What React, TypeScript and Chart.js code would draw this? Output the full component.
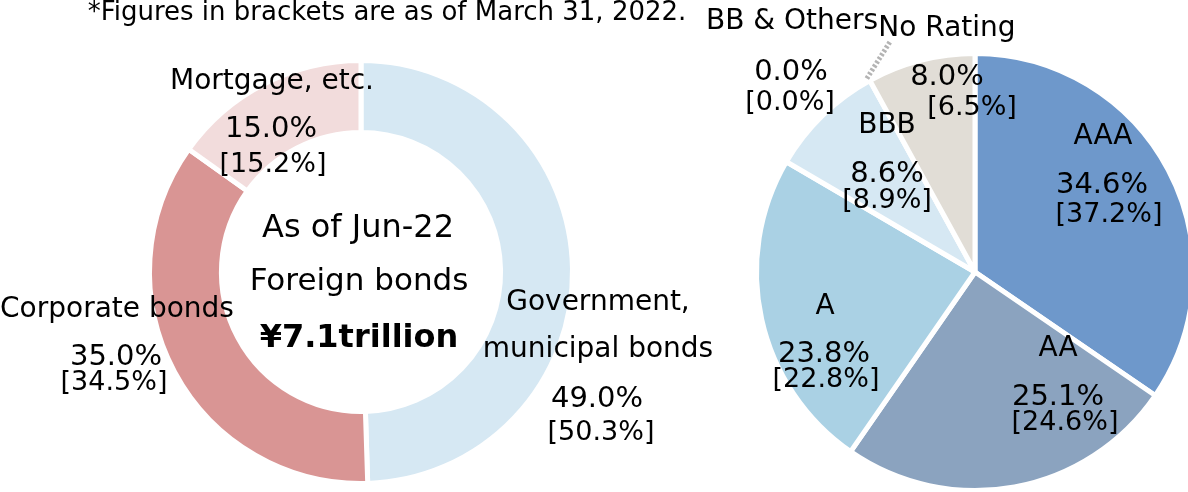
import React, { useEffect, useRef } from "react";
import { Chart, registerables } from "chart.js";

Chart.register(...registerables);

// ---------- DATA ----------
const footnote = "*Figures in brackets are as of March 31, 2022.";
const centerTitle = ["As of Jun-22", "Foreign bonds"];
const centerTotal = "¥7.1trillion";

const bondCategories = [["Government,", "municipal bonds"], ["Corporate bonds"], ["Mortgage, etc."]];
const bondShares = [49.0, 35.0, 15.0];
const bondSharesPrev = [50.3, 34.5, 15.2];

const ratingCategories = [["AAA"], ["AA"], ["A"], ["BBB"], ["BB & Others"], ["No Rating"]];
const ratingShares = [34.6, 25.1, 23.8, 8.6, 0.0, 8.0];
const ratingSharesPrev = [37.2, 24.6, 22.8, 8.9, 0.0, 6.5];

// ---------- STYLE / LAYOUT ----------
const FONT = "'DejaVu Sans', Verdana, sans-serif";
const bondColors = ["#D6E8F3", "#D99594", "#F2DCDC"];
const ratingColors = ["#6E98CB", "#8BA3BF", "#AAD1E4", "#D6E8F3", "#BFBFBF", "#E1DDD6"];
const GAP = 5;

// offsets (dx, dy of text baseline) relative to pie centre, one per text line
const bondLabelPos = [
  [[237, 38], [237, 85], [236, 135], [240, 168]],
  [[-244, 45], [-245, 93], [-247, 118]],
  [[-89, -183], [-90, -135], [-88, -100]],
];
const ratingLabelPos = [
  [[128, -128], [127, -79], [134, -50]],
  [[83, 84], [83, 133], [90, 158]],
  [[-150, 42], [-151, 90], [-149, 115]],
  [[-88, -139], [-88, -90], [-88, -64]],
  [[-183, -243], [-184, -192], [-185, -162]],
  [[-28, -236], [-28, -187], [-3, -157]],
];
const centerPos = [[-3, -35], [-2, 18], [-2, 75]];
const footnotePos = [26, -252];

const fmt = (v: number) => v.toFixed(1) + "%";

type Item = { text: string; dx: number; dy: number; font: string };

function buildItems(
  names: string[][],
  vals: number[],
  prev: number[],
  pos: number[][][],
  nameSize: number,
  pctSize: number,
  brSize: number
): Item[] {
  const items: Item[] = [];
  names.forEach((lines, i) => {
    const texts = [...lines, fmt(vals[i]), "[" + fmt(prev[i]) + "]"];
    const fonts = [
      ...lines.map(() => `${nameSize}px ${FONT}`),
      `${pctSize}px ${FONT}`,
      `${brSize}px ${FONT}`,
    ];
    texts.forEach((t, k) => {
      items.push({ text: t, dx: pos[i][k][0], dy: pos[i][k][1], font: fonts[k] });
    });
  });
  return items;
}

function textPlugin(items: Item[]) {
  return {
    id: "sliceText",
    afterDatasetsDraw(chart: any) {
      const arc = chart.getDatasetMeta(0).data[0];
      if (!arc) return;
      const { x, y } = arc;
      const ctx = chart.ctx;
      ctx.save();
      ctx.fillStyle = "#000000";
      ctx.textAlign = "center";
      ctx.textBaseline = "alphabetic";
      items.forEach((it) => {
        ctx.font = it.font;
        ctx.fillText(it.text, x + it.dx, y + it.dy);
      });
      ctx.restore();
    },
  };
}

const leaderPlugin = {
  id: "leader",
  afterDatasetsDraw(chart: any) {
    const idx = ratingShares.indexOf(0);
    const arc: any = chart.getDatasetMeta(0).data[idx];
    if (!arc) return;
    const a = arc.startAngle;
    const r = arc.outerRadius;
    const sx = arc.x + Math.cos(a) * r - 3;
    const sy = arc.y + Math.sin(a) * r - 2;
    const ctx = chart.ctx;
    ctx.save();
    ctx.strokeStyle = "#B4B4B4";
    ctx.lineWidth = 5;
    ctx.setLineDash([2.5, 2]);
    ctx.beginPath();
    ctx.moveTo(sx, sy);
    ctx.lineTo(sx + 24, sy - 38);
    ctx.stroke();
    ctx.restore();
  },
};

export default function App() {
  const leftRef = useRef<HTMLCanvasElement>(null);
  const rightRef = useRef<HTMLCanvasElement>(null);

  useEffect(() => {
    const leftItems = buildItems(bondCategories, bondShares, bondSharesPrev, bondLabelPos, 28, 29, 27);
    leftItems.push({ text: centerTitle[0], dx: centerPos[0][0], dy: centerPos[0][1], font: `32px ${FONT}` });
    leftItems.push({ text: centerTitle[1], dx: centerPos[1][0], dy: centerPos[1][1], font: `31px ${FONT}` });
    leftItems.push({ text: centerTotal, dx: centerPos[2][0], dy: centerPos[2][1], font: `bold 32px ${FONT}` });
    leftItems.push({ text: footnote, dx: footnotePos[0], dy: footnotePos[1], font: `26px ${FONT}` });

    const left = new Chart(leftRef.current!, {
      type: "doughnut",
      data: {
        labels: bondCategories.map((l) => l.join(" ")),
        datasets: [
          {
            data: bondShares,
            backgroundColor: bondColors,
            borderColor: "#FFFFFF",
            borderWidth: GAP,
          },
        ],
      },
      options: {
        responsive: false,
        animation: false,
        radius: 209 + GAP / 2,
        cutout: "66%",
        layout: { padding: { top: 52, left: 2, right: 0, bottom: 0 } },
        plugins: { legend: { display: false }, tooltip: { enabled: false } },
      } as any,
      plugins: [textPlugin(leftItems)],
    });

    const rightItems = buildItems(ratingCategories, ratingShares, ratingSharesPrev, ratingLabelPos, 28, 29, 27);
    const right = new Chart(rightRef.current!, {
      type: "pie",
      data: {
        labels: ratingCategories.map((l) => l.join(" ")),
        datasets: [
          {
            data: ratingShares,
            backgroundColor: ratingColors,
            borderColor: "#FFFFFF",
            borderWidth: GAP,
          },
        ],
      },
      options: {
        responsive: false,
        animation: false,
        radius: 216 + GAP / 2,
        layout: { padding: { top: 52, left: 82, right: 0, bottom: 0 } },
        plugins: { legend: { display: false }, tooltip: { enabled: false } },
      } as any,
      plugins: [textPlugin(rightItems), leaderPlugin],
    });

    return () => {
      left.destroy();
      right.destroy();
    };
  }, []);

  return (
    <div
      style={{
        position: "fixed",
        left: 0,
        top: 0,
        width: 1188,
        height: 492,
        overflow: "hidden",
        background: "#FFFFFF",
      }}
    >
      <canvas
        ref={leftRef}
        width={720}
        height={492}
        style={{ position: "absolute", left: 0, top: 0, width: 720, height: 492 }}
      />
      <canvas
        ref={rightRef}
        width={508}
        height={492}
        style={{ position: "absolute", left: 680, top: 0, width: 508, height: 492 }}
      />
    </div>
  );
}
